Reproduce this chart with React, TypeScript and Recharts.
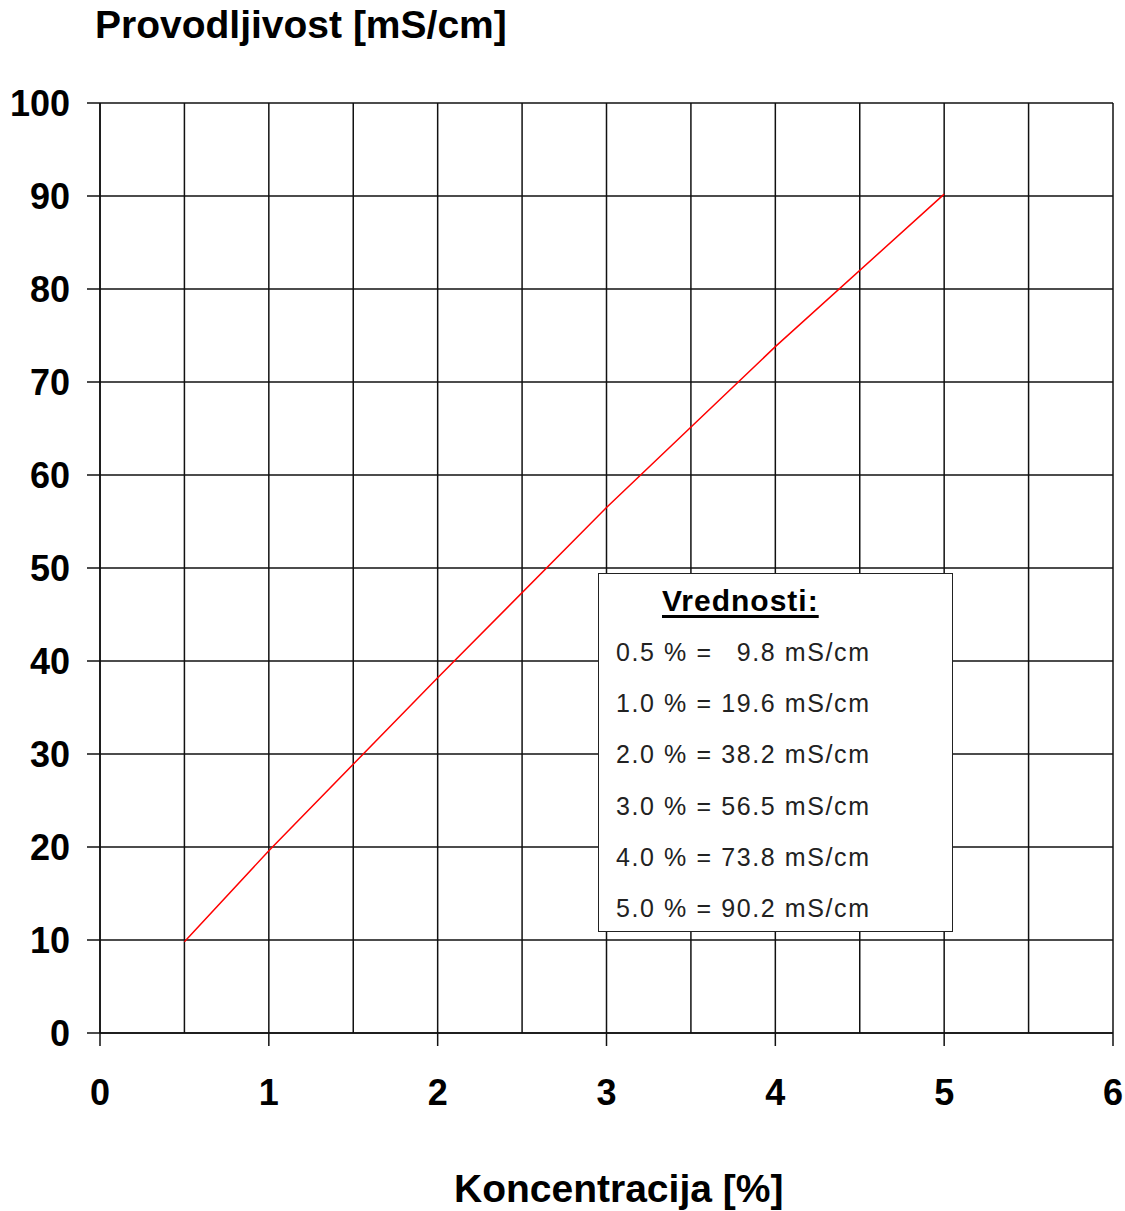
import React from 'react';
import { LineChart, Line, XAxis, YAxis, CartesianGrid } from 'recharts';

// concentration [%] and conductivity [mS/cm]
const concentration = [0.5, 1, 2, 3, 4, 5];
const conductivity = [9.8, 19.6, 38.2, 56.5, 73.8, 90.2];

const xTicks = [0, 0.5, 1, 1.5, 2, 2.5, 3, 3.5, 4, 4.5, 5, 5.5, 6];
const yTicks = [0, 10, 20, 30, 40, 50, 60, 70, 80, 90, 100];

const yTitle = 'Provodljivost [mS/cm]';
const xTitle = 'Koncentracija [%]';
const boxTitle = 'Vrednosti:';

const data = concentration.map((c, i) => ({ c, v: conductivity[i] }));

const FONT = '"Liberation Sans", Arial, sans-serif';

function XTick(props: any) {
  const { x, y, payload } = props;
  if (!Number.isInteger(payload.value)) return null;
  return (
    <g>
      <line x1={x} y1={y} x2={x} y2={y + 13} stroke="#111" strokeWidth={1.5} />
      <text x={x} y={y + 72} textAnchor="middle" fill="#000" fontSize={36} fontWeight="bold" fontFamily={FONT}>
        {payload.value}
      </text>
    </g>
  );
}

function ValueBox() {
  return (
    <div
      style={{
        position: 'absolute',
        left: 598,
        top: 573,
        width: 353,
        height: 357,
        background: '#fff',
        border: '1.5px solid #222',
        fontFamily: FONT,
        color: '#222',
      }}
    >
      <div
        style={{
          position: 'absolute',
          left: 63,
          top: 10,
          fontSize: 30,
          fontWeight: 'bold',
          letterSpacing: 1,
          textDecoration: 'underline',
          textUnderlineOffset: 4,
          textDecorationThickness: 3,
          color: '#000',
        }}
      >
        {boxTitle}
      </div>
      {concentration.map((c, i) => {
        const v = conductivity[i];
        // pad single-digit values with a figure space so the numbers line up
        const vs = v < 10 ? '\u2007' + v.toFixed(1) : v.toFixed(1);
        return (
          <div
            key={c}
            style={{
              position: 'absolute',
              left: 17,
              top: 63 + i * 51.2,
              fontSize: 25,
              letterSpacing: 1.6,
              whiteSpace: 'pre',
              lineHeight: '30px',
            }}
          >
            {`${c.toFixed(1)} % = ${vs} mS/cm`}
          </div>
        );
      })}
    </div>
  );
}

export default function App() {
  return (
    <div style={{ position: 'absolute', left: 0, top: 0, width: 1125, height: 1211, background: '#fff' }}>
      <LineChart
        width={1125}
        height={1211}
        data={data}
        margin={{ top: 103, right: 12, left: 0, bottom: 0 }}
      >
        <CartesianGrid stroke="#111" strokeWidth={1.5} horizontalValues={yTicks} verticalValues={xTicks} />
        <XAxis
          dataKey="c"
          type="number"
          domain={[0, 6]}
          ticks={xTicks}
          interval={0}
          height={178}
          tickSize={0}
          tickMargin={0}
          axisLine={{ stroke: '#111', strokeWidth: 1.5 }}
          tickLine={false}
          tick={<XTick />}
        />
        <YAxis
          type="number"
          domain={[0, 100]}
          ticks={yTicks}
          interval={0}
          width={100}
          tickSize={13}
          tickMargin={17}
          axisLine={{ stroke: '#111', strokeWidth: 1.5 }}
          tickLine={{ stroke: '#111', strokeWidth: 1.5 }}
          tick={{ fill: '#000', fontSize: 36, fontWeight: 'bold', fontFamily: FONT }}
        />
        <Line
          type="linear"
          dataKey="v"
          stroke="#ff0000"
          strokeWidth={1.5}
          dot={false}
          isAnimationActive={false}
        />
      </LineChart>
      <div
        style={{
          position: 'absolute',
          left: 95,
          top: 3,
          fontFamily: FONT,
          fontWeight: 'bold',
          fontSize: 39,
          color: '#000',
          whiteSpace: 'nowrap',
        }}
      >
        {yTitle}
      </div>
      <div
        style={{
          position: 'absolute',
          left: 454,
          top: 1167,
          fontFamily: FONT,
          fontWeight: 'bold',
          fontSize: 39,
          color: '#000',
          whiteSpace: 'nowrap',
        }}
      >
        {xTitle}
      </div>
      <ValueBox />
    </div>
  );
}
